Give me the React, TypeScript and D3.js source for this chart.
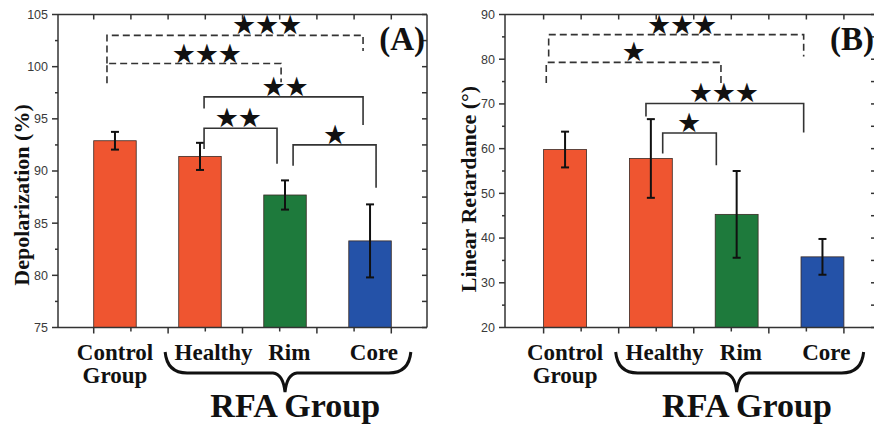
import React from 'react'
import * as d3 from 'd3'

const categories = ['Control', 'Healthy', 'Rim', 'Core']
const barColors = ['#ef5530', '#ef5530', '#1e7a3c', '#2452a8']
const labelShift = [0, 0.16, 0.05, 0.045]

const depolMean = [92.9, 91.4, 87.7, 83.3]
const depolErr = [0.85, 1.3, 1.4, 3.5]
const depolTicks = [75, 80, 85, 90, 95, 100, 105]

const retardMean = [59.8, 57.8, 45.3, 35.8]
const retardErr = [4.0, 8.8, 9.7, 4.0]
const retardTicks = [20, 30, 40, 50, 60, 70, 80, 90]

// significance brackets, x in category units, y in data units
const depolBrackets = [
  { x1: 0.906, x2: 3.918, y: 103.0, y1: 100.3, y2: 101.5, stars: 3, sx: 2.79, dashed: true },
  { x1: 0.906, x2: 2.954, y: 100.3, y1: 98.4, y2: 98.5, stars: 3, sx: 2.08, dashed: true },
  { x1: 2.048, x2: 3.918, y: 97.1, y1: 96.0, y2: 94.4, stars: 2, sx: 3.0, dashed: false },
  { x1: 2.048, x2: 2.906, y: 94.1, y1: 92.1, y2: 90.7, stars: 2, sx: 2.45, dashed: false },
  { x1: 3.095, x2: 4.071, y: 92.5, y1: 90.5, y2: 88.4, stars: 1, sx: 3.59, dashed: false },
]

const retardBrackets = [
  { x1: 0.809, x2: 3.781, y: 85.5, y1: 80.6, y2: 80.6, stars: 3, sx: 2.363, dashed: true },
  { x1: 0.781, x2: 2.817, y: 79.3, y1: 74.7, y2: 74.3, stars: 1, sx: 1.803, dashed: true },
  { x1: 1.943, x2: 3.781, y: 70.1, y1: 67.2, y2: 63.6, stars: 3, sx: 2.852, dashed: false },
  { x1: 2.138, x2: 2.763, y: 63.5, y1: 58.9, y2: 56.3, stars: 1, sx: 2.445, dashed: false },
]

const serif = "'Liberation Serif', 'Times New Roman', serif"
const sans = "'Liberation Sans', Arial, sans-serif"

const Panel = ({ left, width, xDomain, yDomain, yTicks, minorStep, means, errs, brackets, title, titleY, tag }) => {
  const top = 14.5
  const bottom = 327.5
  const x = d3.scaleLinear().domain(xDomain).range([left, left + width])
  const y = d3.scaleLinear().domain(yDomain).range([bottom, top])
  const bw = x(1.5) - x(1)
  const xTicks = d3.range(0.75, xDomain[1] + 0.01, 0.4375)
  const minor = d3.range(yDomain[0], yDomain[1] + 0.01, minorStep)

  const p = d3.path()
  const bl = x(1.59), bt = x(3.0), br = x(4.48)
  const yTop = bottom + 24.5, yLine = bottom + 45.5, yTip = bottom + 64.5
  p.moveTo(bl, yTop)
  p.quadraticCurveTo(bl + 2, yLine, bl + 22, yLine)
  p.lineTo(bt - 12, yLine)
  p.quadraticCurveTo(bt - 2, yLine + 1, bt, yTip)
  p.quadraticCurveTo(bt + 2, yLine + 1, bt + 12, yLine)
  p.lineTo(br - 22, yLine)
  p.quadraticCurveTo(br - 2, yLine, br, yTop)

  return (
    <g>
      {means.map((m, i) => (
        <rect key={'b' + i} x={x(i + 1) - bw / 2} y={y(m)} width={bw} height={bottom - y(m)}
          fill={barColors[i]} stroke="#3a2a25" strokeWidth={0.8} />
      ))}
      {means.map((m, i) => {
        const cx = x(i + 1)
        return (
          <g key={'e' + i} stroke="#111" strokeWidth={2}>
            <line x1={cx} x2={cx} y1={y(m - errs[i])} y2={y(m + errs[i])} />
            <line x1={cx - 4} x2={cx + 4} y1={y(m - errs[i])} y2={y(m - errs[i])} />
            <line x1={cx - 4} x2={cx + 4} y1={y(m + errs[i])} y2={y(m + errs[i])} />
          </g>
        )
      })}
      {brackets.map((b, k) => (
        <g key={'k' + k}>
          <path d={`M${x(b.x1)},${y(b.y1)}V${y(b.y)}H${x(b.x2)}V${y(b.y2)}`} fill="none"
            stroke="#333" strokeWidth={1.6} strokeDasharray={b.dashed ? '7,4' : null} />
          {d3.range(b.stars).map((s) => (
            <text key={s} x={x(b.sx) + (s - (b.stars - 1) / 2) * 23} y={y(b.y) - 1}
              textAnchor="middle" fontFamily="'DejaVu Sans'" fontSize={27} fill="#111">★</text>
          ))}
        </g>
      ))}
      {/* axes frame */}
      <g stroke="#333" strokeWidth={1.5} fill="none">
        <line x1={left} x2={left + width} y1={top} y2={top} />
        <line x1={left} x2={left + width} y1={bottom} y2={bottom} />
        <line x1={left} x2={left} y1={top} y2={bottom} />
        <line x1={left + width} x2={left + width} y1={top} y2={bottom} />
        {xTicks.map((t, i) => (
          <g key={'xt' + i}>
            <line x1={x(t)} x2={x(t)} y1={bottom} y2={bottom + (i % 2 === 0 ? 6 : 4)} />
            <line x1={x(t)} x2={x(t)} y1={top} y2={top + 5} />
          </g>
        ))}
        {minor.map((v, i) => (
          <g key={'yt' + i}>
            <line x1={left} x2={left - (yTicks.includes(v) ? 6 : 3)} y1={y(v)} y2={y(v)} />
            <line x1={left + width} x2={left + width - 5} y1={y(v)} y2={y(v)} />
          </g>
        ))}
      </g>
      {yTicks.map((v) => (
        <text key={'yl' + v} x={left - 10} y={y(v)} dy="0.35em" textAnchor="end"
          fontFamily={sans} fontSize={12.5} fill="#3a3a3a">{v}</text>
      ))}
      <text transform={`translate(${left - 29},${titleY}) rotate(-90)`} textAnchor="middle"
        fontFamily={serif} fontWeight="bold" fontSize={22} fill="#111">{title}</text>
      <text x={left + width - 2} y={50} textAnchor="end" fontFamily={serif} fontWeight="bold"
        fontSize={33} fill="#111">{tag}</text>
      {categories.map((c, i) => (
        <text key={'c' + i} x={x(i + 1 + labelShift[i])} y={bottom + 32.5} textAnchor="middle"
          fontFamily={serif} fontWeight="bold" fontSize={23} fill="#111">{c}</text>
      ))}
      <text x={x(1 + labelShift[0])} y={bottom + 55.5} textAnchor="middle"
        fontFamily={serif} fontWeight="bold" fontSize={23} fill="#111">Group</text>
      <path d={p.toString()} fill="none" stroke="#111" strokeWidth={3} />
      <text x={x(3.12)} y={bottom + 89.5} textAnchor="middle" fontFamily={serif}
        fontWeight="bold" fontSize={34} fill="#111">RFA Group</text>
    </g>
  )
}

export default function App() {
  return (
    <svg width={874} height={424} style={{ position: 'absolute', left: 0, top: 0, background: '#fff' }}>
      <rect width={874} height={424} fill="#fff" />
      <Panel left={58} width={369} xDomain={[0.33, 4.67]} yDomain={[75, 105]} yTicks={depolTicks}
        minorStep={2.5} means={depolMean} errs={depolErr} brackets={depolBrackets}
        title="Depolarization (%)" titleY={195} tag="(A)" />
      <Panel left={505} width={371} xDomain={[0.3, 4.624]} yDomain={[20, 90]} yTicks={retardTicks}
        minorStep={5} means={retardMean} errs={retardErr} brackets={retardBrackets}
        title="Linear Retardance (°)" titleY={189} tag="(B)" />
    </svg>
  )
}
